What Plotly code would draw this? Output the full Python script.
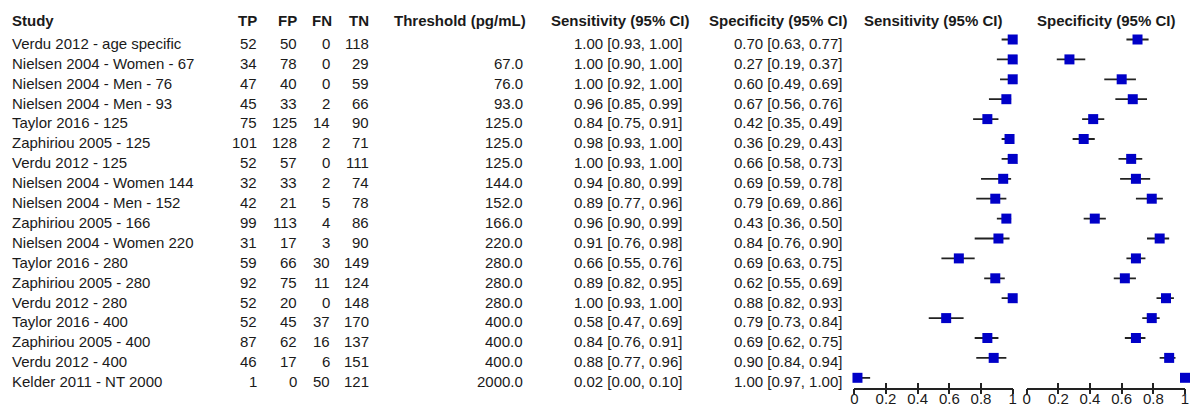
import plotly.graph_objects as go

W, H = 1197, 407

studies = ["Verdu 2012 - age specific", "Nielsen 2004 - Women - 67", "Nielsen 2004 - Men - 76",
           "Nielsen 2004 - Men - 93", "Taylor 2016 - 125", "Zaphiriou 2005 - 125", "Verdu 2012 - 125",
           "Nielsen 2004 - Women 144", "Nielsen 2004 - Men - 152", "Zaphiriou 2005 - 166",
           "Nielsen 2004 - Women 220", "Taylor 2016 - 280", "Zaphiriou 2005 - 280", "Verdu 2012 - 280",
           "Taylor 2016 - 400", "Zaphiriou 2005 - 400", "Verdu 2012 - 400", "Kelder 2011 - NT 2000"]
tp = [52, 34, 47, 45, 75, 101, 52, 32, 42, 99, 31, 59, 92, 52, 52, 87, 46, 1]
fp = [50, 78, 40, 33, 125, 128, 57, 33, 21, 113, 17, 66, 75, 20, 45, 62, 17, 0]
fn = [0, 0, 0, 2, 14, 2, 0, 2, 5, 4, 3, 30, 11, 0, 37, 16, 6, 50]
tn = [118, 29, 59, 66, 90, 71, 111, 74, 78, 86, 90, 149, 124, 148, 170, 137, 151, 121]
threshold = [None, 67, 76, 93, 125, 125, 125, 144, 152, 166, 220, 280, 280, 280, 400, 400, 400, 2000]
sens = [1.00, 1.00, 1.00, 0.96, 0.84, 0.98, 1.00, 0.94, 0.89, 0.96, 0.91, 0.66, 0.89, 1.00, 0.58, 0.84, 0.88, 0.02]
sens_lo = [0.93, 0.90, 0.92, 0.85, 0.75, 0.93, 0.93, 0.80, 0.77, 0.90, 0.76, 0.55, 0.82, 0.93, 0.47, 0.76, 0.77, 0.00]
sens_hi = [1.00, 1.00, 1.00, 0.99, 0.91, 1.00, 1.00, 0.99, 0.96, 0.99, 0.98, 0.76, 0.95, 1.00, 0.69, 0.91, 0.96, 0.10]
spec = [0.70, 0.27, 0.60, 0.67, 0.42, 0.36, 0.66, 0.69, 0.79, 0.43, 0.84, 0.69, 0.62, 0.88, 0.79, 0.69, 0.90, 1.00]
spec_lo = [0.63, 0.19, 0.49, 0.56, 0.35, 0.29, 0.58, 0.59, 0.69, 0.36, 0.76, 0.63, 0.55, 0.82, 0.73, 0.62, 0.84, 0.97]
spec_hi = [0.77, 0.37, 0.69, 0.76, 0.49, 0.43, 0.73, 0.78, 0.86, 0.50, 0.90, 0.75, 0.69, 0.93, 0.84, 0.75, 0.94, 1.00]
tick_vals = [0, 0.2, 0.4, 0.6, 0.8, 1]
tick_text = ["0", "0.2", "0.4", "0.6", "0.8", "1"]

FONT = "Liberation Sans, Arial, sans-serif"
FS = 15
TXT = "#1a1a1a"
BLUE = "#0000C8"
LINE = "#222222"

rows = list(range(len(studies)))
ROW_PX = 19.9
TEXT_Y0 = 43.3      # pixel centre of first text row
MARK_Y0 = 39.5      # pixel centre of first marker row
AXIS_PX = 387.7     # pixel of the forest axis line

fig = go.Figure()


def ci_trace(est, lo, hi, xa):
    return go.Scatter(
        x=est, y=rows, xaxis=xa, yaxis="y2", mode="markers",
        marker=dict(symbol="square", size=10, color=BLUE, line=dict(width=0)),
        error_x=dict(type="data", symmetric=False,
                     array=[h - e for e, h in zip(est, hi)],
                     arrayminus=[e - l for e, l in zip(est, lo)],
                     width=0, thickness=1.8, color=LINE),
        cliponaxis=False, hoverinfo="skip", showlegend=False)


fig.add_trace(ci_trace(sens, sens_lo, sens_hi, "x"))
fig.add_trace(ci_trace(spec, spec_lo, spec_hi, "x2"))
# invisible traces so the overlay axes (outward tick halves) are drawn
fig.add_trace(go.Scatter(x=[None], y=[None], xaxis="x3", yaxis="y2", showlegend=False))
fig.add_trace(go.Scatter(x=[None], y=[None], xaxis="x4", yaxis="y2", showlegend=False))

# column layout (pixel x of text anchor)
cols = [
    ("Study", studies, 10, "left"),
    ("TP", [str(v) for v in tp], 258.5, "right"),
    ("FP", [str(v) for v in fp], 298.5, "right"),
    ("FN", [str(v) for v in fn], 332.3, "right"),
    ("TN", [str(v) for v in tn], 371.3, "right"),
    ("Threshold (pg/mL)", ["" if t is None else f"{t:.1f}" for t in threshold], 524.5, "right"),
    ("Sensitivity (95% CI)", [f"{e:.2f} [{l:.2f}, {h:.2f}]" for e, l, h in zip(sens, sens_lo, sens_hi)], 684, "right"),
    ("Specificity (95% CI)", [f"{e:.2f} [{l:.2f}, {h:.2f}]" for e, l, h in zip(spec, spec_lo, spec_hi)], 843.5, "right"),
]
header_right = {"FN": 334, "Threshold (pg/mL)": 527.5, "Sensitivity (95% CI)": 690.5,
                "Specificity (95% CI)": 849}

ann = []
HEADER_ROW = (20 - TEXT_Y0) / ROW_PX
for name, vals, xpx, anchor in cols:
    hx = header_right.get(name, xpx)
    ann.append(dict(x=hx / W, xref="paper", y=HEADER_ROW, yref="y", text="<b>%s</b>" % name,
                    xanchor=anchor, yanchor="middle", showarrow=False,
                    font=dict(family=FONT, size=FS, color=TXT)))
    for i, v in enumerate(vals):
        if v == "":
            continue
        ann.append(dict(x=xpx / W, xref="paper", y=i, yref="y", text=v,
                        xanchor=anchor, yanchor="middle", showarrow=False,
                        font=dict(family=FONT, size=FS, color=TXT)))
# forest panel headers
for title, left in [("Sensitivity (95% CI)", 862.3), ("Specificity (95% CI)", 1035)]:
    ann.append(dict(x=left / W, xref="paper", y=HEADER_ROW, yref="y", text="<b>%s</b>" % title,
                    xanchor="left", yanchor="middle", showarrow=False,
                    font=dict(family=FONT, size=FS, color=TXT)))

sens_dom = [854.3 / W, 1012.7 / W]
spec_dom = [1026.7 / W, 1185.0 / W]
ybot = (H - AXIS_PX) / H

axis_common = dict(range=[0, 1], showgrid=False, zeroline=False, showline=True,
                   linecolor=LINE, linewidth=1.5, tickvals=tick_vals, ticktext=tick_text,
                   tickcolor=LINE, tickwidth=1.5, ticklen=5, fixedrange=True, automargin=False,
                   tickfont=dict(family=FONT, size=FS, color=TXT))

fig.update_layout(
    width=W, height=H, margin=dict(l=0, r=0, t=0, b=0, pad=0, autoexpand=False),
    paper_bgcolor="white", plot_bgcolor="rgba(0,0,0,0)",
    xaxis=dict(domain=sens_dom, anchor="y2", ticks="inside", showticklabels=True,
               ticklabelstandoff=-3, **axis_common),
    xaxis2=dict(domain=spec_dom, anchor="y2", ticks="inside", showticklabels=True,
                ticklabelstandoff=-3, **axis_common),
    xaxis3=dict(overlaying="x", anchor="y2", ticks="outside", showticklabels=False,
                **axis_common),
    xaxis4=dict(overlaying="x2", anchor="y2", ticks="outside", showticklabels=False,
                **axis_common),
    yaxis=dict(domain=[0, 1], range=[(H - TEXT_Y0) / ROW_PX, -TEXT_Y0 / ROW_PX],
               visible=False, fixedrange=True, automargin=False),
    yaxis2=dict(domain=[ybot, 1], range=[(AXIS_PX - MARK_Y0) / ROW_PX, -MARK_Y0 / ROW_PX],
                visible=False, fixedrange=True, automargin=False),
    annotations=ann,
)

fig.write_html("out.html")
